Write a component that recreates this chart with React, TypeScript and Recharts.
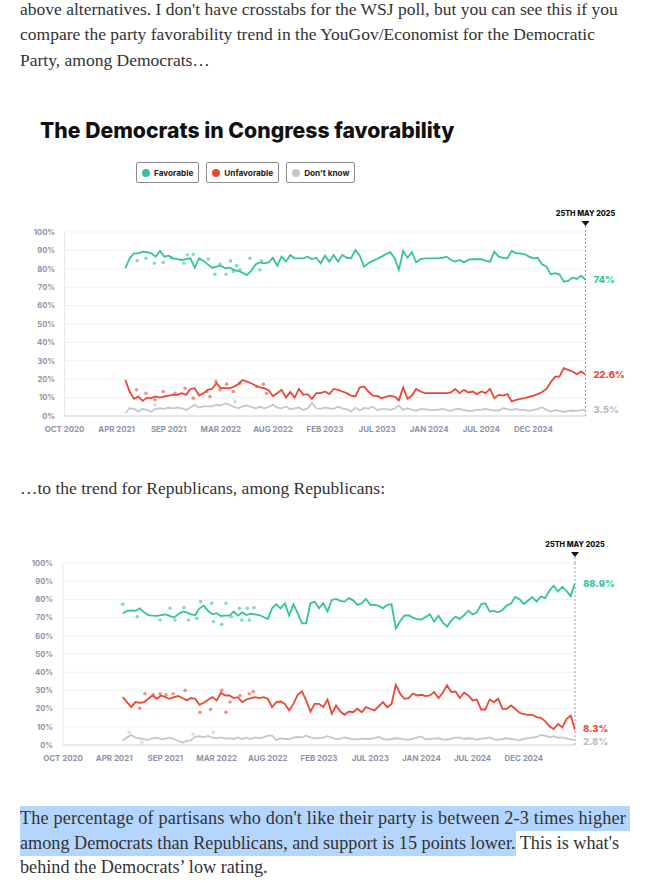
import React from "react";
import {
  CartesianGrid,
  ComposedChart,
  Line,
  ReferenceLine,
  XAxis,
  YAxis,
} from "recharts";

// weeks counted from mid Oct 2020, one reading every two weeks
const weeks = Array.from({ length: 107 }, (_, i) => 28 + i * 2);

const tickWeeks = [0, 24, 48, 72, 96, 120, 144, 168, 192, 216];
const tickLabels = [
  "OCT 2020", "APR 2021", "SEP 2021", "MAR 2022", "AUG 2022",
  "FEB 2023", "JUL 2023", "JAN 2024", "JUL 2024", "DEC 2024",
];
const pctTicks = [0, 10, 20, 30, 40, 50, 60, 70, 80, 90, 100];
const markerWeek = 240;
const markerLabel = "25TH MAY 2025";

// Democrats among Democrats
const demFav = [
  80.3, 85.7, 88.4, 88.4, 89.3, 89, 88.4, 86.6, 89.7, 86.6, 87.1, 85.7, 85.2, 84.8, 85.3, 85.7, 80.6, 85.7, 84.3, 82.4,
  80.6, 81.2, 81.7, 80.3, 80.6, 79.4, 78.8, 77.9, 76.6, 78.8, 82.4, 83.5, 83, 83.5, 86, 81.7, 86.6, 83.9, 87.5, 85.7,
  85.7, 85.7, 86.6, 85.3, 86, 83, 87.1, 83.9, 87.5, 83.9,
  87.5, 86, 85.7, 90.2, 87.1, 81.2, 83, 84.3, 85.3, 86.6, 87.9, 89, 86, 79.4, 89.7, 86, 89, 83.5, 85.3, 85.7,
  85.7, 85.7, 85.7, 86, 86.6, 84.8, 83.9, 84.8, 83.5, 84.8, 85.3, 85.2, 85.2, 84.3, 83.9, 89.3, 86.6, 86, 85.7, 89.7,
  88.4, 88.4, 87.9, 86.6, 85.7, 86, 82.4, 81.2, 77, 77.6, 77, 73, 73.4, 75.2, 74.5, 76.3, 74,
];
const demUnfav = [
  19.6, 13.3, 9.3, 10.6, 8.2, 10, 9.7, 10.6, 10, 10.6, 11.1, 11.5, 11.5, 12.4, 11.5, 14.7, 15.1, 11.1, 12.4, 14.2,
  14.7, 17.8, 15.1, 15.1, 15.1, 16, 17.3, 19.6, 18.7, 17.8, 16.6, 15.5, 15.1, 14, 10.9, 12.4, 14.2, 10, 13, 10,
  14.7, 11.5, 11.9, 9.3, 12.4, 12.4, 13.3, 11.9, 14.7, 14.2,
  13.3, 12.4, 11.1, 10.6, 15.5, 16, 13.3, 11.1, 10.9, 9.7, 10.4, 11.1, 10.6, 8.5, 15.5, 9.3, 11.1, 14.7, 13.3, 12.4,
  12.4, 12.4, 12.4, 12.4, 12.4, 12.8, 14.7, 12.4, 14.2, 12.8, 13.3, 11.9, 13.3, 12.4, 14.7, 9.7, 11.5, 11.1, 11.9, 7.9,
  8.8, 9.3, 9.7, 10.4, 11.1, 11.9, 13, 14.7, 18.4, 21.4, 21.4, 26, 25.1, 24.2, 22.7, 24.2, 22.6,
];
const demDk = [
  1.5, 4.2, 3.9, 2.4, 3.9, 3.2, 2.4, 3.9, 4.2, 3.9, 4.6, 4.2, 4.6, 4.2, 3.3, 4.6, 6.1, 4.6, 5.2, 5.2,
  5.3, 6.1, 5.7, 6.8, 6.1, 5, 4.2, 5.2, 5.7, 5, 4.2, 5, 4.2, 5, 6.1, 4.6, 4.2, 5.2, 3.7, 4.2,
  4.6, 3.3, 4.2, 7, 4.2, 3.9, 4.6, 4.2, 3.9, 5,
  4.2, 3.7, 2.4, 4.6, 3, 4.4, 4, 5, 3.3, 3.7, 3.7, 3.3, 4, 5.7, 3.3, 4.2, 3.5, 2.8, 3.7, 3.7,
  3.3, 3.3, 3.3, 3.9, 3.3, 2.8, 3.7, 3.9, 3.3, 2.8, 2.8, 3.3, 3.5, 3.9, 3.3, 3, 3, 4.2, 3.7, 3.3,
  3.9, 3.3, 3.3, 2.8, 3.3, 3.9, 4.8, 3.3, 2.4, 3.2, 2.8, 2.2, 2.8, 3, 2.8, 3.2, 3.5,
];
const demFavPolls = [
  [33.5, 84.4], [37.5, 85.7], [41.4, 83], [45.5, 83.5], [49.4, 85.7], [55, 83], [56.6, 87.5], [59.3, 87.9],
  [66.2, 85.3], [69.3, 77], [71.6, 82.4], [74.4, 77], [76.5, 84.3], [77.8, 78.5], [79.3, 81.7], [80.8, 79.4],
  [85.4, 85.7], [90, 79.4], [90.8, 84.3],
];
const demUnfavPolls = [
  [33.2, 14.2], [37.5, 12.4], [41.7, 8.8], [45.5, 13.3], [50.9, 12.4], [55.5, 15.1], [59.3, 9.7], [65.5, 13.3],
  [67, 10.6], [69.8, 18.7], [71.6, 14.2], [74.7, 17.3], [77.8, 13.3], [80.8, 17.8], [88.5, 16], [91.6, 17.3], [93.1, 12.4],
];
const demDkPolls = [[41.7, 6.1], [78.5, 7.9]];

// Republicans among Republicans
const repFav = [
  72.4, 73.7, 74, 73.7, 75.1, 72.9, 71.4, 71.1, 70.9, 71.4, 71.8, 70.9, 70, 71.8, 73.3, 72.9, 71.8, 71.4, 75.1, 76.6,
  73.7, 71.8, 72.4, 70.9, 71.1, 71.1, 73.3, 71.1, 72.9, 71.4, 72.2, 71.8, 71.4, 70.3, 69.2, 75.1, 77.3, 75.1, 77.9, 71.1,
  77.3, 72.4, 66.8, 66.8, 77.9, 78.8, 75.1, 77.9, 73.3, 79.7, 80.3,
  79.2, 78.8, 80.7, 79.5, 77, 77.9, 80.3, 77, 77, 76.4, 75.1, 77, 77.3, 64, 68, 71.1, 71.3, 70, 69.1, 68.9,
  70.3, 71.8, 67.8, 71.1, 67.4, 65, 68.3, 70.5, 69.1, 71.4, 73.8, 71.8, 72.9, 77.3, 77.9, 73.3, 73.7, 72.9, 74.2, 76.6,
  77.7, 81.4, 80.1, 77.5, 79.4, 81.2, 78.8, 81.6, 80.7, 84.7, 87.5, 84.3, 86.9, 84.7, 81.8, 88.9,
];
const repUnfav = [
  26.3, 23.6, 20.8, 23.6, 23.2, 23.6, 25.4, 27.2, 25.4, 27.2, 26.3, 25.4, 26.3, 26.9, 25.8, 24.5, 25.8, 25.4, 22.1, 23.2,
  24.8, 26.3, 24.5, 28.7, 27.2, 27.2, 25.8, 26.3, 23.6, 25, 25.8, 26.3, 25.8, 26.3, 25.4, 20.8, 23.6, 23.9, 22.6, 19,
  22.6, 27.6, 29.4, 24.5, 18.4, 22.6, 22.6, 20.8, 25, 17.1, 21.7,
  18.4, 16.6, 18.4, 18, 19.9, 18, 20.8, 19.9, 19, 21.3, 23.6, 20.8, 22.6, 33.1, 28.2, 25.4, 25.8, 28.2, 27.2, 27.6,
  26.9, 27.2, 29.1, 25.8, 28.7, 32.8, 29.1, 29.4, 25.8, 28.7, 27.2, 24.5, 25, 19.5, 19.5, 25, 23.6, 25.4, 19.9, 19.9,
  21.7, 19.9, 17.7, 16.9, 16.6, 16.6, 15.3, 14.9, 13.1, 10.3, 8.8, 11.6, 9.7, 14.3, 16.2, 8.3,
];
const repDk = [
  2.4, 4.2, 5.5, 4, 3.7, 3.1, 2.9, 3.7, 4, 3.1, 3.5, 4, 3.3, 2.2, 1.4, 2.2, 2.6, 4.6, 4.8, 4.2,
  5, 4, 3.7, 4.2, 3.5, 3.7, 3.3, 4.2, 3.3, 4, 3.3, 4.2, 3.8, 4.2, 5.1, 5.1, 2.7, 3.7, 3.3, 3.3,
  4, 4.4, 4.2, 5.1, 4.2, 3.7, 3.8, 4, 4.8, 4, 3.3,
  3.5, 4.2, 3.7, 3.1, 3.1, 3.5, 3.3, 3.3, 3.8, 4.6, 3.3, 2.9, 3.3, 3.7, 3.5, 3.1, 2.9, 3.3, 4.2, 4.6,
  3.1, 3.3, 3.5, 3.7, 3.1, 2.9, 3.5, 4, 4, 3.3, 3.7, 3.5, 2.9, 3.5, 3.7, 4.2, 3.1, 2.9, 3.3, 3.7,
  3.3, 2.9, 2.6, 3.3, 3.8, 4, 4.4, 5.5, 5.1, 4.2, 4.8, 4, 4.2, 3.7, 3.1, 2.8,
];
const repFavPolls = [
  [28, 77.3], [34.8, 70.5], [45.5, 68.7], [50.2, 75.1], [52.5, 68.7], [56.7, 75.5], [58.8, 68.7], [62.7, 69.6],
  [64.5, 78.8], [69.7, 77.9], [70.5, 67.8], [74.4, 66.3], [76.4, 77.9], [79, 70.5], [82.7, 75.1], [83.8, 68.7],
  [86.4, 75.1], [87.3, 68.7], [89.5, 75.5],
];
const repUnfavPolls = [
  [36, 20.2], [38.4, 28.2], [42.3, 27.6], [45.5, 28.2], [48.3, 27.6], [51.7, 28.2], [57.2, 30], [64.2, 18],
  [69.2, 19.5], [74.4, 30], [76.4, 18], [78.3, 23.6], [83, 27.2], [87.3, 28.2], [89.2, 29.4],
];
const repDkPolls = [[31, 7], [36.9, 1.4], [61, 6], [70.5, 7]];

const GREEN = "#33c49b";
const RED = "#ee4634";
const GRAY = "#c4c6d1";
const TICK = "#8e92a8";
const SANS = "Inter, 'Noto Sans', sans-serif";
const SERIF = "'Liberation Serif', 'DejaVu Serif', serif";

type Geo = {
  top: number;
  height: number;
  margin: { top: number; right: number; bottom: number; left: number };
  yLabelRight: number;
  xLabelY: number;
  unfavDy: number;
  dkDy: number;
};

const demGeo: Geo = {
  top: 195,
  height: 245,
  margin: { top: 37, right: 65.5, bottom: 4, left: 24.5 },
  yLabelRight: 55,
  xLabelY: 237,
  unfavDy: 0,
  dkDy: 0,
};
const repGeo: Geo = {
  top: 525,
  height: 245,
  margin: { top: 38, right: 76, bottom: 5, left: 23 },
  yLabelRight: 53,
  xLabelY: 236,
  unfavDy: -1.5,
  dkDy: 1.5,
};

function endLabel(color: string, lastIndex: number, dy = 0) {
  return (props: any) => {
    if (props.index !== lastIndex) return null;
    return (
      <text
        x={props.x + 8}
        y={props.y + 3.3 + dy}
        fill={color}
        fontFamily={SANS}
        fontSize={9.5}
        fontWeight={800}
      >
        {props.value}%
      </text>
    );
  };
}

function markerContent(props: any) {
  const { x, y } = props.viewBox;
  return (
    <g>
      <text
        x={x}
        y={y - 16}
        textAnchor="middle"
        fontFamily={SANS}
        fontSize={7.3}
        fontWeight={800}
        fill="#111"
      >
        {markerLabel}
      </text>
      <path d={`M${x - 4},${y - 11} L${x + 4},${y - 11} L${x},${y - 6} Z`} fill="#111" />
      <line x1={x} x2={x} y1={y - 6} y2={y} stroke="#9a9a9a" strokeDasharray="2 2" />
    </g>
  );
}

function PartyChart({
  fav, unfav, dk, favPolls, unfavPolls, dkPolls, geo,
}: {
  fav: number[];
  unfav: number[];
  dk: number[];
  favPolls: number[][];
  unfavPolls: number[][];
  dkPolls: number[][];
  geo: Geo;
}) {
  const rows = weeks.map((w, i) => ({ w, fav: fav[i], unfav: unfav[i], dk: dk[i] }));
  const last = rows.length - 1;
  const polls = (pts: number[][]) => pts.map(([w, v]) => ({ w, v }));
  const pollDot = (color: string) => ({ r: 1.8, fill: color, fillOpacity: 0.6, stroke: "none" });

  return (
    <div style={{ position: "absolute", left: 0, top: geo.top }}>
      <ComposedChart width={651} height={geo.height} data={rows} margin={geo.margin}>
        <CartesianGrid vertical={false} stroke="#f1f1f5" />
        <XAxis
          type="number"
          dataKey="w"
          domain={[0, 240]}
          ticks={tickWeeks}
          interval={0}
          height={20}
          tickLine={false}
          axisLine={{ stroke: "#d3d5dc" }}
          allowDataOverflow
          tick={(p: any) => (
            <text
              x={p.x}
              y={geo.xLabelY}
              textAnchor="middle"
              fontFamily={SANS}
              fontSize={7.9}
              fontWeight={700}
              fill={TICK}
            >
              {tickLabels[tickWeeks.indexOf(p.payload.value)]}
            </text>
          )}
        />
        <YAxis
          type="number"
          domain={[0, 100]}
          ticks={pctTicks}
          interval={0}
          width={40}
          tickLine={false}
          axisLine={{ stroke: "#e6e7ec" }}
          tick={(p: any) => (
            <text
              x={geo.yLabelRight}
              y={p.y + 2.7}
              textAnchor="end"
              fontFamily={SANS}
              fontSize={7.6}
              fontWeight={700}
              fill={TICK}
            >
              {p.payload.value}%
            </text>
          )}
        />
        <ReferenceLine
          x={markerWeek}
          stroke="#9a9a9a"
          strokeDasharray="2 2"
          label={markerContent}
          ifOverflow="visible"
        />
        <Line data={polls(dkPolls)} dataKey="v" stroke="none" dot={pollDot(GRAY)} activeDot={false} isAnimationActive={false} />
        <Line data={polls(unfavPolls)} dataKey="v" stroke="none" dot={pollDot(RED)} activeDot={false} isAnimationActive={false} />
        <Line data={polls(favPolls)} dataKey="v" stroke="none" dot={pollDot(GREEN)} activeDot={false} isAnimationActive={false} />
        <Line
          type="linear"
          dataKey="dk"
          stroke={GRAY}
          strokeWidth={1.8}
          dot={false}
          activeDot={false}
          isAnimationActive={false}
          label={endLabel("#b9bbc7", last, geo.dkDy)}
        />
        <Line
          type="linear"
          dataKey="unfav"
          stroke={RED}
          strokeWidth={1.8}
          dot={false}
          activeDot={false}
          isAnimationActive={false}
          label={endLabel(RED, last, geo.unfavDy)}
        />
        <Line
          type="linear"
          dataKey="fav"
          stroke={GREEN}
          strokeWidth={1.8}
          dot={false}
          activeDot={false}
          isAnimationActive={false}
          label={endLabel(GREEN, last)}
        />
      </ComposedChart>
    </div>
  );
}

const legendItems = [
  { label: "Favorable", color: GREEN },
  { label: "Unfavorable", color: RED },
  { label: "Don't know", color: GRAY },
];

function Legend() {
  return (
    <div style={{ position: "absolute", left: 136, top: 162, display: "flex", gap: 7 }}>
      {legendItems.map((item) => (
        <div
          key={item.label}
          style={{
            height: 19,
            border: "1px solid #8c8c8c",
            borderRadius: 2,
            display: "flex",
            alignItems: "center",
            padding: "0 5px",
            gap: 4,
            fontFamily: SANS,
            fontSize: 8.2,
            fontWeight: 700,
            color: "#222",
          }}
        >
          <span style={{ width: 8, height: 8, borderRadius: 4, background: item.color }} />
          {item.label}
        </div>
      ))}
    </div>
  );
}

const textLine = (top: number, size = 17.5, lh = 25): React.CSSProperties => ({
  position: "absolute",
  left: 20,
  top,
  height: lh,
  lineHeight: `${lh}px`,
  whiteSpace: "nowrap",
  fontFamily: SERIF,
  fontSize: size,
  color: "#333",
});

const HL = "#b4d5fe";

export default function App() {
  return (
    <div style={{ position: "relative", width: 651, height: 884, overflow: "hidden", background: "#fff" }}>
      <style>{"body{margin:0}"}</style>

      <div style={textLine(0, 17.5, 18)}>
        above alternatives. I don't have crosstabs for the WSJ poll, but you can see this if you
      </div>
      <div style={textLine(22)}>
        compare the party favorability trend in the YouGov/Economist for the Democratic
      </div>
      <div style={textLine(48)}>Party, among Democrats…</div>

      <div
        style={{
          position: "absolute",
          left: 40,
          top: 120,
          lineHeight: "21px",
          fontFamily: SANS,
          fontSize: 21.2,
          fontWeight: 800,
          color: "#111",
          whiteSpace: "nowrap",
        }}
      >
        The Democrats in Congress favorability
      </div>
      <Legend />

      <PartyChart
        fav={demFav}
        unfav={demUnfav}
        dk={demDk}
        favPolls={demFavPolls}
        unfavPolls={demUnfavPolls}
        dkPolls={demDkPolls}
        geo={demGeo}
      />

      <div style={textLine(476)}>…to the trend for Republicans, among Republicans:</div>

      <PartyChart
        fav={repFav}
        unfav={repUnfav}
        dk={repDk}
        favPolls={repFavPolls}
        unfavPolls={repUnfavPolls}
        dkPolls={repDkPolls}
        geo={repGeo}
      />

      <div style={textLine(806, 18.2)}>
        <span style={{ background: HL, display: "inline-block", paddingRight: 4, letterSpacing: 0.15 }}>
          The percentage of partisans who don't like their party is between 2-3 times higher
        </span>
      </div>
      <div style={textLine(831, 18.2)}>
        <span style={{ background: HL, display: "inline-block" }}>
          among Democrats than Republicans, and support is 15 points lower.
        </span>
        {" This is what's"}
      </div>
      <div style={textLine(855, 18.2)}>behind the Democrats’ low rating.</div>
    </div>
  );
}
